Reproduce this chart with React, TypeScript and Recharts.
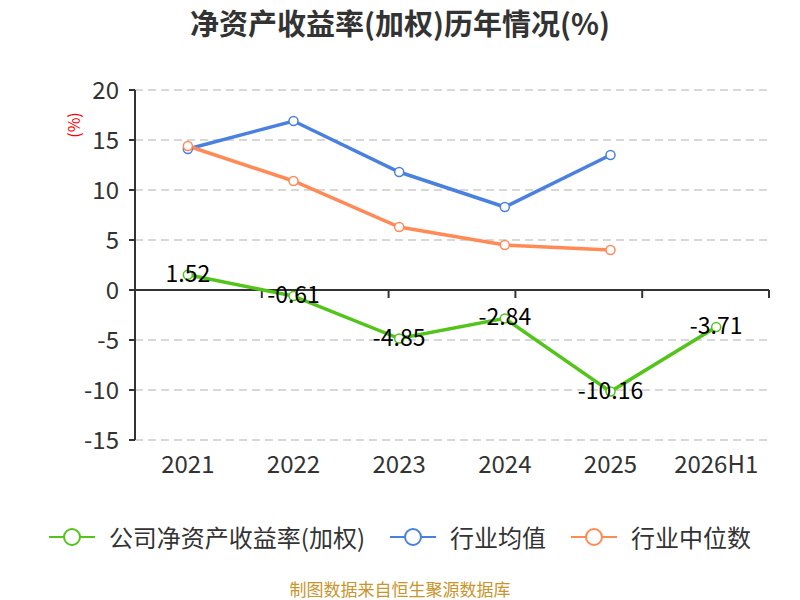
import {
  LineChart,
  Line,
  XAxis,
  YAxis,
  CartesianGrid,
  ReferenceLine,
  LabelList,
} from 'recharts';

const YEARS = ['2021', '2022', '2023', '2024', '2025', '2026H1'];
const COMPANY_ROE = [1.52, -0.61, -4.85, -2.84, -10.16, -3.71];
const INDUSTRY_AVG = [14.1, 16.9, 11.8, 8.3, 13.5, null];
const INDUSTRY_MEDIAN = [14.4, 10.9, 6.3, 4.5, 4.0, null];
const Y_TICKS = [-15, -10, -5, 0, 5, 10, 15, 20];
const BOUNDARIES = [1, 2, 3, 4, 5, 6];

const SERIES = [
  { key: 'company', name: '公司净资产收益率(加权)', color: '#52c41a' },
  { key: 'avg', name: '行业均值', color: '#4a80e0' },
  { key: 'median', name: '行业中位数', color: '#ff8a56' },
];

const FONT = '"Noto Sans CJK SC", "Noto Sans", sans-serif';

const chartData = YEARS.map((year, i) => ({
  year,
  company: COMPANY_ROE[i],
  avg: INDUSTRY_AVG[i],
  median: INDUSTRY_MEDIAN[i],
}));

const dot = (color: string) => ({ r: 4.5, fill: '#fff', stroke: color, strokeWidth: 1.5 });

function ValueLabel(props: any) {
  const { x, y, value } = props;
  return (
    <text x={x} y={y} dy={-3} textAnchor="middle" dominantBaseline="central" fontSize={23} fill="#000" fontFamily={FONT}>
      {value}
    </text>
  );
}

function UnitLabel(props: any) {
  const { viewBox } = props;
  const x = viewBox.x + 73;
  const y = viewBox.y + 35;
  return (
    <text x={x} y={y} transform={`rotate(-90 ${x} ${y})`} textAnchor="middle" dominantBaseline="central" fontSize={16} fill="#f00" fontFamily={FONT}>
      (%)
    </text>
  );
}

export default function App() {
  return (
    <div style={{ position: 'absolute', left: 0, top: 0, width: 800, height: 600, background: '#fff', fontFamily: FONT, overflow: 'hidden' }}>
      <div style={{ position: 'absolute', top: 0, left: 0, width: 800, textAlign: 'center', fontSize: 29, fontWeight: 'bold', color: '#333', lineHeight: '44px' }}>
        净资产收益率(加权)历年情况(%)
      </div>

      <LineChart width={800} height={600} data={chartData} margin={{ top: 90, right: 31, bottom: 120, left: 0 }}>
        <CartesianGrid horizontal vertical={false} stroke="#ccc" strokeWidth={1.5} strokeDasharray="8 5" />
        <XAxis
          dataKey="year"
          scale="band"
          axisLine={false}
          tickLine={false}
          tickSize={0}
          tickMargin={16}
          height={40}
          interval={0}
          tick={{ fontSize: 24, fill: '#333', fontFamily: FONT }}
        />
        <XAxis xAxisId="bounds" type="number" domain={[0, 6]} hide />
        <YAxis
          domain={[-15, 20]}
          ticks={Y_TICKS}
          width={135}
          axisLine={{ stroke: '#333', strokeWidth: 2 }}
          tickLine={{ stroke: '#333', strokeWidth: 2 }}
          tickSize={6}
          tickMargin={10}
          tick={{ fontSize: 24, fill: '#333', fontFamily: FONT }}
          label={<UnitLabel />}
          interval={0}
        />
        <ReferenceLine y={0} stroke="#333" strokeWidth={2} />
        {BOUNDARIES.map((b) => (
          <ReferenceLine
            key={b}
            xAxisId="bounds"
            segment={[{ x: b, y: 0 }, { x: b, y: -0.8 }]}
            stroke="#333"
            strokeWidth={2}
          />
        ))}
        <Line
          isAnimationActive={false}
          dataKey="avg"
          name="行业均值"
          stroke={SERIES[1].color}
          strokeWidth={3.5}
          dot={dot(SERIES[1].color)}
          activeDot={false}
        />
        <Line
          isAnimationActive={false}
          dataKey="median"
          name="行业中位数"
          stroke={SERIES[2].color}
          strokeWidth={3.5}
          dot={dot(SERIES[2].color)}
          activeDot={false}
        />
        <Line
          isAnimationActive={false}
          dataKey="company"
          name="公司净资产收益率(加权)"
          stroke={SERIES[0].color}
          strokeWidth={3.5}
          dot={dot(SERIES[0].color)}
          activeDot={false}
        >
          <LabelList dataKey="company" content={<ValueLabel />} />
        </Line>
      </LineChart>

      <div style={{ position: 'absolute', top: 518, left: 0, width: 800, display: 'flex', justifyContent: 'center', alignItems: 'center', gap: 25 }}>
        {SERIES.map((s) => (
          <div key={s.key} style={{ display: 'flex', alignItems: 'center', gap: 14 }}>
            <svg width={46} height={20}>
              <line x1={0} y1={10} x2={46} y2={10} stroke={s.color} strokeWidth={2} />
              <circle cx={23} cy={10} r={8} fill="#fff" stroke={s.color} strokeWidth={2} />
            </svg>
            <span style={{ fontSize: 24, color: '#333', lineHeight: '38px' }}>{s.name}</span>
          </div>
        ))}
      </div>

      <div style={{ position: 'absolute', top: 579, left: 0, width: 800, textAlign: 'center', fontSize: 17, color: '#c9952b', lineHeight: '20px' }}>
        制图数据来自恒生聚源数据库
      </div>
    </div>
  );
}
